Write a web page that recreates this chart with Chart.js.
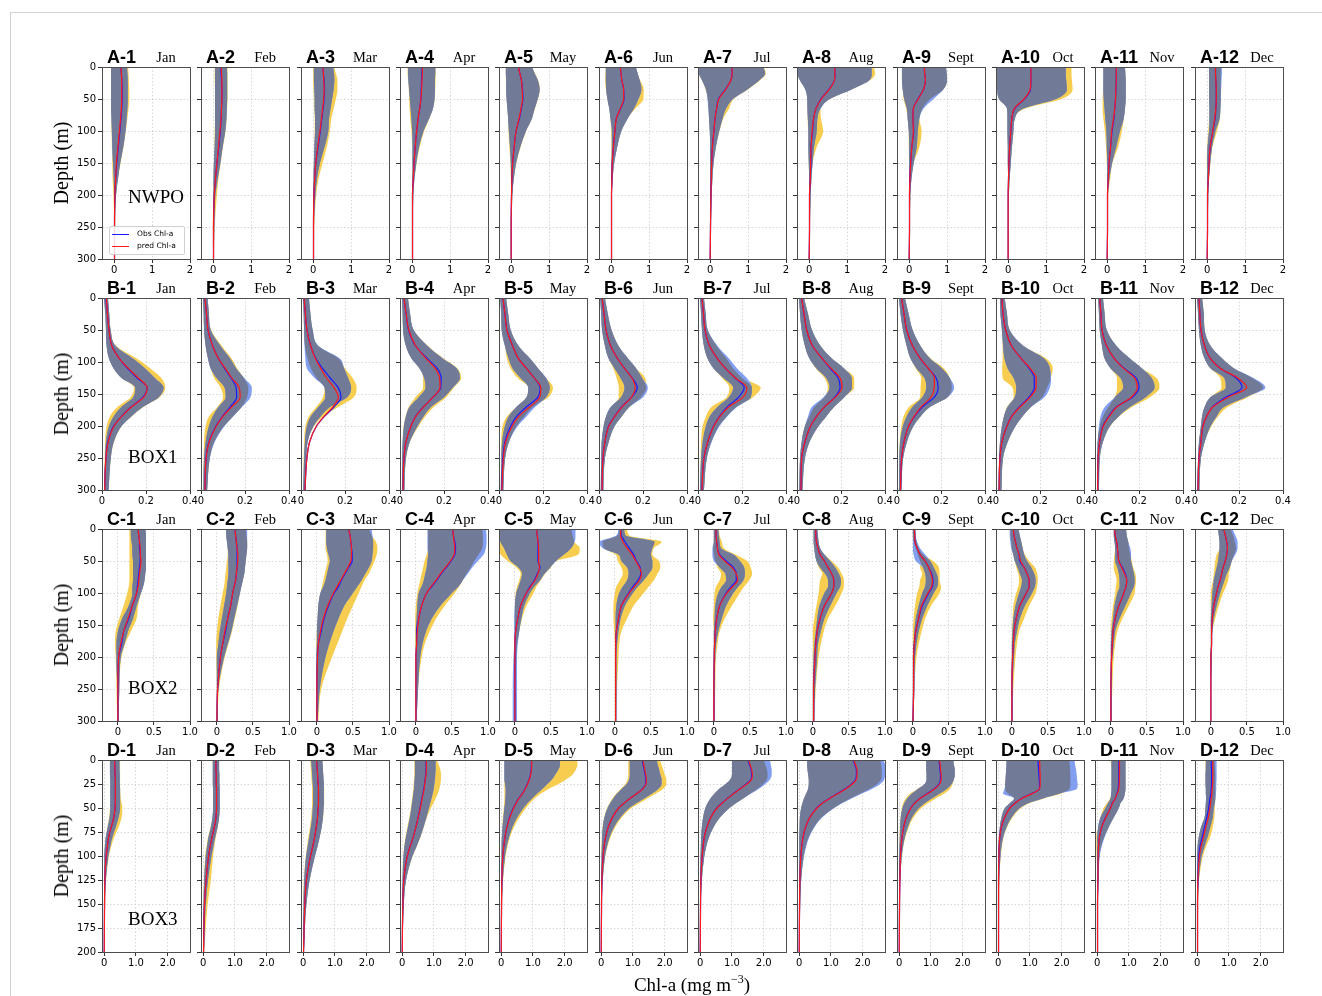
<!DOCTYPE html>
<html><head><meta charset="utf-8">
<script src="https://cdn.jsdelivr.net/npm/chart.js@4.4.1/dist/chart.umd.min.js"></script>
<style>
html,body{margin:0;padding:0;background:#fff}
body{width:1322px;height:996px;position:relative;overflow:hidden}
canvas{position:absolute}
.t{position:absolute;white-space:nowrap;line-height:0;color:#000}
#frame{position:absolute;left:10px;top:12px;width:1312px;height:984px;border-top:1px solid #d2d2d2;border-left:1px solid #d2d2d2}
#legend{position:absolute;left:109px;top:226px;width:74px;height:27px;border:1px solid #d0d0d0;border-radius:2px;background:rgba(255,255,255,0.85);font-family:"DejaVu Sans",sans-serif;font-size:7.5px}
</style></head><body>
<div id="frame"></div>
<script>
// ---------------- labels ----------------
const months = ['Jan','Feb','Mar','Apr','May','Jun','Jul','Aug','Sept','Oct','Nov','Dec'];
const rowLetters = ['A','B','C','D'];
const regionNames = ['NWPO','BOX1','BOX2','BOX3'];

// ---------------- depth grids (m) ----------------
const depthA = [0,10,20,35,50,65,80,100,125,150,175,200,250,300];
const depthB = [0,25,50,75,95,110,125,140,155,170,185,200,225,250,300];
const depthC = [0,10,20,30,40,50,60,70,80,90,100,120,140,160,180,200,250,300];
const depthD = [0,5,10,15,20,25,30,35,40,45,50,60,70,80,90,100,125,150,200];

// ---------------- axis ticks ----------------
const xRangeA = [-0.32, 2], xTicksA = [0,1,2], xLabelsA = ['0','1','2'];
const xRangeB = [0, 0.4], xTicksB = [0,0.2,0.4], xLabelsB = ['0','0.2','0.4'];
const xRangeC = [-0.22, 1.0], xTicksC = [0,0.5,1.0], xLabelsC = ['0','0.5','1.0'];
const xRangeD = [-0.07, 2.7], xTicksD = [0,1,2], xLabelsD = ['0','1.0','2.0'];
const yTicks300 = [0,50,100,150,200,250,300];
const yTicks200 = [0,25,50,75,100,125,150,175,200];

// ================= ROW A (NWPO) =================
const obsA = [
[0.18,0.19,0.2,0.21,0.21,0.2,0.18,0.15,0.11,0.07,0.04,0.02,0.01,0.01],
[0.2,0.21,0.22,0.23,0.23,0.22,0.21,0.19,0.15,0.1,0.06,0.03,0.01,0.01],
[0.26,0.27,0.29,0.3,0.29,0.26,0.23,0.19,0.13,0.07,0.04,0.02,0.01,0.01],
[0.26,0.26,0.25,0.24,0.23,0.2,0.16,0.12,0.08,0.05,0.03,0.01,0.01,0.01],
[0.19,0.23,0.27,0.3,0.31,0.27,0.22,0.13,0.08,0.04,0.02,0.01,0,0],
[0.24,0.26,0.28,0.33,0.34,0.25,0.14,0.1,0.06,0.03,0.02,0.01,0.01,0.01],
[0.58,0.58,0.55,0.4,0.22,0.17,0.13,0.1,0.06,0.04,0.03,0.02,0.01,0],
[0.67,0.68,0.67,0.52,0.31,0.18,0.12,0.09,0.05,0.045,0.03,0.01,0.01,0],
[0.4,0.41,0.43,0.38,0.23,0.11,0.1,0.12,0.07,0.04,0.02,0.01,0.01,0],
[0.59,0.6,0.6,0.59,0.43,0.17,0.1,0.07,0.04,0.02,0.01,0,0,0],
[0.24,0.24,0.24,0.23,0.22,0.2,0.18,0.13,0.09,0.05,0.03,0.01,0.01,0],
[0.22,0.22,0.23,0.24,0.24,0.23,0.21,0.15,0.08,0.05,0.03,0.01,0.01,0]];
const predA = [
[0.18,0.19,0.2,0.2,0.2,0.19,0.17,0.14,0.1,0.06,0.04,0.02,0.01,0.01],
[0.21,0.22,0.23,0.23,0.23,0.22,0.21,0.18,0.14,0.1,0.06,0.03,0.01,0.01],
[0.26,0.27,0.28,0.29,0.28,0.25,0.22,0.18,0.12,0.07,0.04,0.02,0.01,0.01],
[0.27,0.27,0.26,0.25,0.23,0.2,0.16,0.12,0.08,0.05,0.03,0.01,0.01,0.01],
[0.19,0.23,0.27,0.29,0.3,0.26,0.21,0.13,0.08,0.04,0.02,0.01,0,0],
[0.24,0.26,0.28,0.33,0.33,0.24,0.14,0.1,0.06,0.03,0.02,0.01,0.01,0.01],
[0.58,0.58,0.55,0.41,0.23,0.17,0.13,0.1,0.06,0.04,0.03,0.02,0.01,0],
[0.67,0.68,0.67,0.53,0.32,0.18,0.12,0.08,0.05,0.04,0.03,0.01,0.01,0],
[0.4,0.41,0.43,0.38,0.24,0.11,0.1,0.11,0.07,0.04,0.02,0.01,0.01,0],
[0.6,0.6,0.6,0.58,0.42,0.16,0.1,0.07,0.04,0.02,0.01,0,0,0],
[0.24,0.24,0.24,0.23,0.22,0.2,0.17,0.12,0.09,0.05,0.03,0.01,0.01,0],
[0.22,0.22,0.23,0.24,0.24,0.23,0.2,0.15,0.08,0.05,0.03,0.01,0.01,0]];
const yelLoA = [
[-0.08,-0.08,-0.08,-0.08,-0.08,-0.08,-0.08,-0.07,-0.06,-0.05,-0.04,-0.02,0,0],
[0.04,0.04,0.04,0.05,0.05,0.05,0.05,0.04,0.03,0.02,0.01,0,-0.01,0],
[0,0,0,0.01,0.02,0.03,0.04,0.04,0.03,0.02,0.01,0,0,0],
[-0.12,-0.12,-0.11,-0.09,-0.08,-0.07,-0.05,-0.02,0,0.01,0,0,0,0],
[-0.14,-0.14,-0.14,-0.13,-0.12,-0.1,-0.08,-0.07,-0.05,-0.02,-0.01,0,0,0],
[-0.14,-0.15,-0.16,-0.14,-0.1,-0.05,-0.02,0,0.01,0,0,0,0,0],
[-0.32,-0.3,-0.22,-0.12,-0.06,-0.04,-0.03,-0.01,0,0,0,0,0,0],
[-0.3,-0.3,-0.25,-0.1,-0.05,-0.05,-0.04,-0.03,-0.02,-0.01,0,0,0,0],
[-0.19,-0.19,-0.19,-0.17,-0.15,-0.08,-0.04,-0.01,-0.01,0,0,0,0,0],
[-0.3,-0.3,-0.3,-0.29,-0.24,-0.03,-0.02,-0.02,-0.01,-0.01,0,0,0,0],
[-0.1,-0.1,-0.1,-0.11,-0.12,-0.12,-0.1,-0.06,-0.03,-0.01,0,0,0,0],
[0.05,0.05,0.05,0.05,0.05,0.05,0.05,0.03,0,-0.01,0,0,0,0]];
const yelHiA = [
[0.37,0.38,0.39,0.4,0.4,0.38,0.35,0.31,0.25,0.17,0.1,0.05,0.03,0.02],
[0.38,0.38,0.38,0.38,0.38,0.37,0.36,0.33,0.26,0.2,0.14,0.1,0.04,0.02],
[0.55,0.6,0.64,0.64,0.6,0.54,0.48,0.44,0.36,0.25,0.14,0.08,0.03,0.02],
[0.62,0.62,0.62,0.61,0.6,0.55,0.46,0.32,0.2,0.12,0.06,0.03,0.02,0.02],
[0.56,0.63,0.71,0.76,0.71,0.63,0.55,0.4,0.25,0.14,0.07,0.03,0.02,0.02],
[0.65,0.7,0.76,0.86,0.85,0.64,0.44,0.27,0.16,0.08,0.04,0.02,0.02,0.02],
[1.42,1.47,1.33,1.0,0.62,0.5,0.35,0.25,0.15,0.09,0.06,0.04,0.02,0.01],
[1.7,1.74,1.62,1.12,0.54,0.3,0.31,0.37,0.2,0.09,0.06,0.04,0.02,0.01],
[0.97,0.99,1.0,0.9,0.55,0.35,0.27,0.33,0.27,0.12,0.06,0.03,0.02,0.01],
[1.67,1.67,1.68,1.7,1.4,0.45,0.18,0.14,0.1,0.07,0.04,0.02,0.01,0.01],
[0.47,0.48,0.49,0.49,0.49,0.47,0.44,0.39,0.29,0.14,0.08,0.03,0.02,0.01],
[0.36,0.36,0.36,0.36,0.36,0.35,0.34,0.26,0.14,0.09,0.05,0.03,0.02,0.01]];
const bluLoA = [
[-0.08,-0.08,-0.08,-0.08,-0.08,-0.08,-0.07,-0.06,-0.05,-0.03,-0.01,0,0,0],
[0.05,0.05,0.05,0.05,0.05,0.05,0.05,0.05,0.04,0.02,0.01,0.01,0,0],
[0.02,0.02,0.02,0.03,0.04,0.04,0.05,0.05,0.03,0.02,0.01,0.01,0,0],
[-0.11,-0.11,-0.1,-0.08,-0.06,-0.04,-0.02,0,0.01,0.01,0.01,0,0,0],
[-0.14,-0.14,-0.13,-0.13,-0.12,-0.1,-0.08,-0.06,-0.03,-0.01,0,0,0,0],
[-0.14,-0.14,-0.14,-0.13,-0.1,-0.05,-0.02,0.02,0.02,0.01,0,0,0,0],
[-0.32,-0.3,-0.22,-0.11,-0.07,-0.05,-0.03,-0.01,0,0,0,0,0,0],
[-0.3,-0.3,-0.25,-0.1,-0.05,-0.045,-0.035,-0.02,-0.02,-0.01,0,0,0,0],
[-0.19,-0.19,-0.19,-0.17,-0.13,-0.06,-0.04,-0.01,0,0,0,0,0,0],
[-0.3,-0.3,-0.3,-0.29,-0.24,-0.03,-0.02,-0.02,-0.01,-0.01,0,0,0,0],
[-0.1,-0.1,-0.1,-0.1,-0.09,-0.07,-0.05,-0.02,-0.01,0,0,0,0,0],
[0.05,0.05,0.05,0.05,0.05,0.06,0.06,0.05,0.01,0,0,0,0,0]];
const bluHiA = [
[0.34,0.35,0.36,0.36,0.36,0.35,0.33,0.3,0.24,0.16,0.1,0.05,0.02,0.02],
[0.36,0.37,0.37,0.37,0.37,0.36,0.35,0.32,0.25,0.19,0.12,0.06,0.03,0.02],
[0.53,0.55,0.56,0.54,0.5,0.46,0.42,0.4,0.3,0.18,0.1,0.06,0.02,0.02],
[0.61,0.61,0.6,0.6,0.59,0.55,0.45,0.3,0.18,0.11,0.06,0.03,0.02,0.02],
[0.55,0.62,0.7,0.75,0.7,0.62,0.55,0.39,0.24,0.13,0.07,0.03,0.02,0.02],
[0.65,0.7,0.75,0.8,0.72,0.6,0.44,0.27,0.16,0.08,0.04,0.02,0.02,0.02],
[1.4,1.45,1.31,0.98,0.6,0.42,0.33,0.24,0.15,0.09,0.06,0.04,0.02,0.01],
[1.65,1.65,1.6,1.12,0.54,0.3,0.22,0.2,0.13,0.09,0.06,0.04,0.02,0.01],
[0.97,0.99,1.0,0.9,0.64,0.38,0.27,0.23,0.2,0.12,0.06,0.03,0.02,0.01],
[1.52,1.52,1.53,1.55,1.26,0.4,0.18,0.14,0.1,0.07,0.04,0.02,0.01,0.01],
[0.47,0.48,0.49,0.49,0.49,0.47,0.44,0.34,0.24,0.13,0.06,0.02,0.02,0.01],
[0.39,0.39,0.38,0.37,0.36,0.35,0.33,0.22,0.13,0.08,0.05,0.03,0.02,0.01]];

// ================= ROW B (BOX1) =================
const obsB = [
[0.018,0.025,0.032,0.045,0.08,0.116,0.16,0.205,0.187,0.133,0.089,0.053,0.027,0.018,0.012],
[0.018,0.025,0.032,0.053,0.08,0.107,0.137,0.16,0.162,0.133,0.098,0.068,0.036,0.023,0.018],
[0.014,0.02,0.027,0.044,0.068,0.098,0.133,0.169,0.182,0.151,0.107,0.071,0.039,0.027,0.018],
[0.018,0.028,0.039,0.071,0.125,0.169,0.187,0.185,0.15,0.107,0.071,0.05,0.027,0.018,0.014],
[0.018,0.027,0.036,0.062,0.089,0.125,0.16,0.187,0.177,0.125,0.08,0.053,0.027,0.018,0.012],
[0.014,0.023,0.032,0.053,0.085,0.116,0.151,0.174,0.148,0.103,0.071,0.044,0.027,0.018,0.014],
[0.018,0.025,0.032,0.053,0.089,0.125,0.169,0.21,0.185,0.133,0.098,0.071,0.044,0.027,0.018],
[0.021,0.032,0.044,0.071,0.116,0.151,0.187,0.196,0.172,0.125,0.089,0.062,0.036,0.021,0.018],
[0.021,0.032,0.044,0.071,0.107,0.142,0.178,0.187,0.17,0.116,0.08,0.053,0.032,0.021,0.016],
[0.027,0.032,0.044,0.071,0.116,0.151,0.174,0.174,0.15,0.107,0.071,0.05,0.027,0.018,0.014],
[0.021,0.027,0.032,0.053,0.089,0.133,0.187,0.2,0.17,0.098,0.062,0.036,0.021,0.014,0.012],
[0.018,0.022,0.027,0.044,0.071,0.116,0.187,0.214,0.14,0.08,0.053,0.036,0.027,0.018,0.014]];
const predB = [
[0.02,0.025,0.032,0.045,0.08,0.12,0.165,0.205,0.19,0.135,0.09,0.055,0.028,0.018,0.012],
[0.018,0.025,0.032,0.053,0.08,0.11,0.14,0.174,0.178,0.14,0.1,0.07,0.037,0.023,0.018],
[0.014,0.02,0.027,0.044,0.066,0.09,0.116,0.15,0.17,0.145,0.105,0.07,0.039,0.027,0.018],
[0.018,0.028,0.04,0.072,0.12,0.16,0.18,0.182,0.15,0.108,0.072,0.05,0.027,0.018,0.014],
[0.018,0.027,0.036,0.062,0.089,0.125,0.16,0.19,0.185,0.14,0.09,0.06,0.03,0.02,0.013],
[0.014,0.023,0.032,0.053,0.085,0.116,0.15,0.164,0.148,0.105,0.072,0.045,0.027,0.018,0.014],
[0.018,0.025,0.032,0.053,0.089,0.125,0.17,0.222,0.205,0.14,0.1,0.072,0.044,0.027,0.018],
[0.021,0.032,0.044,0.071,0.116,0.155,0.196,0.205,0.175,0.125,0.089,0.062,0.036,0.021,0.018],
[0.021,0.032,0.044,0.071,0.107,0.142,0.17,0.169,0.155,0.11,0.078,0.053,0.032,0.021,0.016],
[0.027,0.032,0.044,0.071,0.116,0.155,0.183,0.182,0.155,0.11,0.072,0.05,0.027,0.018,0.014],
[0.021,0.027,0.032,0.053,0.089,0.13,0.18,0.192,0.165,0.1,0.065,0.038,0.021,0.014,0.012],
[0.018,0.022,0.027,0.044,0.071,0.116,0.195,0.235,0.15,0.082,0.053,0.036,0.027,0.018,0.014]];
const yelLoB = [
[0.009,0.015,0.018,0.021,0.032,0.053,0.089,0.145,0.13,0.071,0.036,0.021,0.014,0.012,0.009],
[0.009,0.012,0.014,0.021,0.032,0.044,0.06,0.089,0.1,0.075,0.036,0.021,0.014,0.012,0.01],
[0.009,0.012,0.014,0.018,0.03,0.045,0.07,0.107,0.1,0.07,0.035,0.02,0.014,0.012,0.01],
[0.009,0.012,0.014,0.027,0.053,0.089,0.105,0.105,0.07,0.04,0.025,0.016,0.012,0.01,0.009],
[0.005,0.01,0.012,0.027,0.036,0.053,0.085,0.133,0.125,0.08,0.036,0.016,0.01,0.009,0.008],
[0.005,0.01,0.014,0.027,0.044,0.065,0.08,0.09,0.09,0.055,0.032,0.021,0.012,0.01,0.008],
[0.009,0.014,0.018,0.027,0.044,0.071,0.11,0.142,0.13,0.062,0.036,0.021,0.014,0.012,0.009],
[0.009,0.014,0.021,0.036,0.057,0.085,0.125,0.14,0.125,0.08,0.056,0.036,0.021,0.014,0.01],
[0.009,0.016,0.027,0.044,0.062,0.085,0.11,0.107,0.105,0.055,0.03,0.02,0.012,0.01,0.009],
[0.018,0.02,0.027,0.03,0.03,0.028,0.03,0.075,0.08,0.05,0.036,0.027,0.018,0.014,0.012],
[0.014,0.018,0.021,0.032,0.044,0.071,0.1,0.1,0.09,0.062,0.036,0.022,0.012,0.01,0.009],
[0.009,0.014,0.018,0.027,0.044,0.071,0.115,0.12,0.07,0.044,0.032,0.027,0.018,0.014,0.01]];
const yelHiB = [
[0.027,0.033,0.04,0.065,0.16,0.22,0.27,0.288,0.262,0.19,0.135,0.09,0.055,0.04,0.03],
[0.03,0.036,0.046,0.095,0.14,0.165,0.195,0.215,0.21,0.185,0.145,0.105,0.06,0.04,0.028],
[0.036,0.043,0.053,0.078,0.172,0.2,0.235,0.253,0.24,0.17,0.1,0.06,0.03,0.025,0.02],
[0.036,0.046,0.062,0.128,0.2,0.262,0.278,0.245,0.21,0.155,0.115,0.085,0.045,0.028,0.02],
[0.032,0.042,0.053,0.089,0.142,0.178,0.214,0.245,0.225,0.155,0.115,0.08,0.045,0.028,0.02],
[0.027,0.04,0.057,0.089,0.133,0.169,0.21,0.215,0.19,0.139,0.103,0.071,0.044,0.027,0.02],
[0.027,0.035,0.044,0.085,0.13,0.16,0.2,0.285,0.25,0.175,0.13,0.095,0.06,0.04,0.027],
[0.032,0.05,0.068,0.107,0.16,0.214,0.26,0.26,0.215,0.169,0.133,0.098,0.057,0.036,0.025],
[0.036,0.053,0.071,0.107,0.155,0.214,0.24,0.249,0.23,0.151,0.107,0.075,0.045,0.028,0.02],
[0.039,0.05,0.062,0.125,0.23,0.258,0.248,0.232,0.21,0.16,0.12,0.089,0.053,0.032,0.025],
[0.036,0.044,0.053,0.098,0.16,0.214,0.28,0.293,0.25,0.17,0.11,0.07,0.036,0.022,0.018],
[0.032,0.04,0.044,0.071,0.125,0.178,0.26,0.31,0.24,0.15,0.105,0.075,0.044,0.027,0.02]];
const bluLoB = [
[0.009,0.015,0.018,0.021,0.032,0.053,0.089,0.151,0.142,0.089,0.053,0.032,0.018,0.014,0.009],
[0.009,0.012,0.014,0.021,0.032,0.044,0.071,0.107,0.112,0.08,0.053,0.036,0.021,0.014,0.011],
[0.009,0.012,0.014,0.016,0.02,0.027,0.062,0.107,0.11,0.08,0.044,0.027,0.018,0.014,0.01],
[0.009,0.012,0.014,0.027,0.053,0.089,0.11,0.116,0.085,0.044,0.027,0.018,0.012,0.01,0.009],
[0.005,0.01,0.012,0.027,0.044,0.062,0.098,0.133,0.125,0.08,0.044,0.027,0.014,0.011,0.008],
[0.005,0.01,0.014,0.027,0.044,0.071,0.098,0.116,0.1,0.053,0.032,0.021,0.012,0.01,0.008],
[0.009,0.014,0.018,0.027,0.044,0.071,0.116,0.16,0.14,0.089,0.053,0.036,0.021,0.014,0.009],
[0.009,0.014,0.021,0.036,0.057,0.089,0.133,0.148,0.12,0.068,0.05,0.036,0.021,0.014,0.01],
[0.009,0.016,0.027,0.044,0.062,0.089,0.125,0.133,0.115,0.071,0.044,0.027,0.014,0.011,0.009],
[0.018,0.02,0.027,0.032,0.039,0.053,0.08,0.092,0.085,0.053,0.036,0.027,0.018,0.014,0.012],
[0.014,0.018,0.021,0.032,0.044,0.071,0.116,0.128,0.09,0.045,0.025,0.018,0.012,0.01,0.009],
[0.009,0.014,0.018,0.027,0.044,0.071,0.133,0.14,0.07,0.044,0.032,0.027,0.018,0.014,0.01]];
const bluHiB = [
[0.027,0.033,0.039,0.062,0.142,0.196,0.24,0.28,0.258,0.187,0.133,0.089,0.053,0.04,0.03],
[0.03,0.036,0.044,0.089,0.133,0.16,0.196,0.231,0.225,0.187,0.146,0.107,0.062,0.04,0.028],
[0.036,0.043,0.053,0.08,0.178,0.196,0.214,0.228,0.21,0.133,0.089,0.057,0.03,0.025,0.02],
[0.036,0.046,0.062,0.125,0.196,0.258,0.272,0.24,0.2,0.142,0.107,0.08,0.044,0.027,0.02],
[0.032,0.042,0.053,0.089,0.142,0.178,0.214,0.231,0.214,0.165,0.125,0.085,0.045,0.028,0.02],
[0.027,0.04,0.057,0.089,0.133,0.169,0.196,0.222,0.2,0.139,0.103,0.071,0.044,0.027,0.02],
[0.027,0.035,0.044,0.089,0.142,0.178,0.222,0.245,0.24,0.178,0.133,0.098,0.062,0.04,0.027],
[0.032,0.05,0.068,0.107,0.16,0.214,0.249,0.25,0.215,0.169,0.133,0.098,0.057,0.036,0.025],
[0.036,0.053,0.071,0.107,0.151,0.205,0.24,0.26,0.23,0.151,0.107,0.075,0.045,0.028,0.02],
[0.039,0.05,0.062,0.125,0.22,0.245,0.25,0.245,0.22,0.16,0.12,0.089,0.053,0.032,0.025],
[0.036,0.044,0.053,0.098,0.16,0.214,0.258,0.271,0.23,0.16,0.107,0.068,0.036,0.022,0.018],
[0.032,0.04,0.044,0.071,0.125,0.178,0.267,0.32,0.23,0.133,0.098,0.071,0.044,0.027,0.02]];

// ================= ROW C (BOX2) =================
const obsC = [
[0.28,0.29,0.3,0.3,0.31,0.31,0.3,0.29,0.28,0.27,0.26,0.2,0.15,0.08,0.05,0.01,0,0],
[0.25,0.26,0.27,0.28,0.28,0.28,0.28,0.27,0.26,0.24,0.22,0.19,0.15,0.12,0.08,0.05,0.01,0],
[0.44,0.46,0.47,0.48,0.49,0.49,0.44,0.39,0.34,0.3,0.24,0.16,0.1,0.06,0.02,0.01,0,0],
[0.51,0.52,0.54,0.55,0.54,0.49,0.42,0.35,0.29,0.22,0.15,0.08,0.04,0.01,0.01,0,0,0],
[0.3,0.31,0.32,0.32,0.32,0.32,0.35,0.31,0.27,0.21,0.16,0.08,0.04,0.01,0,0,0,0],
[0.08,0.09,0.14,0.2,0.26,0.3,0.35,0.36,0.32,0.25,0.19,0.09,0.05,0.02,0.01,0.01,0.01,0.01],
[0.03,0.03,0.04,0.05,0.08,0.17,0.27,0.31,0.31,0.24,0.17,0.08,0.04,0.02,0.01,0.005,0,0],
[0.04,0.04,0.05,0.07,0.1,0.16,0.21,0.26,0.29,0.29,0.26,0.16,0.1,0.06,0.04,0.03,0.01,0.01],
[0.02,0.025,0.03,0.06,0.1,0.17,0.22,0.26,0.28,0.27,0.22,0.13,0.08,0.04,0.02,0.01,0.01,0],
[0.02,0.03,0.05,0.07,0.1,0.11,0.17,0.21,0.24,0.24,0.2,0.11,0.06,0.03,0.02,0.01,0,0],
[0.05,0.06,0.08,0.09,0.1,0.11,0.16,0.2,0.22,0.21,0.18,0.11,0.06,0.03,0.02,0.01,0,0],
[0.18,0.2,0.22,0.23,0.22,0.2,0.17,0.15,0.13,0.1,0.08,0.04,0.02,0.01,0.01,0,0,0]];
const predC = [
[0.28,0.29,0.3,0.31,0.31,0.32,0.31,0.3,0.29,0.28,0.26,0.2,0.14,0.08,0.04,0.01,0,0],
[0.25,0.26,0.27,0.28,0.29,0.29,0.28,0.27,0.26,0.24,0.22,0.19,0.15,0.11,0.08,0.05,0.01,0],
[0.44,0.46,0.47,0.48,0.48,0.47,0.43,0.38,0.33,0.28,0.23,0.15,0.09,0.05,0.02,0.01,0,0],
[0.51,0.52,0.53,0.54,0.53,0.48,0.41,0.34,0.28,0.21,0.15,0.08,0.04,0.02,0.01,0,0,0],
[0.3,0.31,0.32,0.33,0.33,0.33,0.34,0.32,0.28,0.22,0.16,0.08,0.04,0.01,0,0,0,0],
[0.08,0.08,0.11,0.17,0.24,0.29,0.34,0.37,0.34,0.27,0.2,0.09,0.05,0.02,0.01,0.01,0.01,0.01],
[0.03,0.03,0.04,0.05,0.07,0.15,0.25,0.31,0.33,0.26,0.18,0.08,0.04,0.02,0.01,0.005,0,0],
[0.04,0.04,0.05,0.07,0.1,0.16,0.21,0.26,0.29,0.29,0.26,0.16,0.1,0.06,0.04,0.03,0.01,0.01],
[0.02,0.025,0.03,0.06,0.1,0.17,0.22,0.25,0.27,0.26,0.21,0.12,0.08,0.04,0.02,0.01,0.01,0],
[0.02,0.03,0.05,0.07,0.1,0.12,0.17,0.21,0.24,0.24,0.2,0.11,0.06,0.03,0.02,0.01,0,0],
[0.05,0.06,0.08,0.09,0.1,0.11,0.15,0.19,0.22,0.21,0.18,0.11,0.06,0.03,0.02,0.01,0,0],
[0.18,0.2,0.22,0.23,0.22,0.2,0.17,0.15,0.13,0.1,0.08,0.04,0.02,0.01,0.01,0,0,0]];
const yelLoC = [
[0.16,0.16,0.16,0.16,0.16,0.16,0.16,0.16,0.16,0.15,0.13,0.08,0.02,-0.03,-0.04,-0.03,-0.02,-0.01],
[0.13,0.13,0.14,0.15,0.15,0.14,0.13,0.12,0.11,0.1,0.08,0.05,0.02,0,-0.01,-0.01,0,0],
[0.12,0.12,0.12,0.12,0.14,0.15,0.13,0.11,0.09,0.07,0.05,0.02,0.01,0,-0.01,-0.01,-0.01,-0.01],
[0.17,0.17,0.17,0.17,0.15,0.12,0.1,0.08,0.06,0.04,0.02,0,-0.01,-0.01,-0.01,0,0,0],
[-0.21,-0.21,-0.21,-0.22,-0.2,-0.1,0.02,0.08,0.06,0.03,0.01,0,0,0,0,0,0,0],
[0.06,0.04,-0.17,-0.15,0.01,0.04,0.09,0.11,0.07,0.02,0,-0.02,-0.02,-0.01,0,0,0,0],
[0,0,0,-0.01,0,0.02,0.05,0.1,0.08,0.03,0.01,0,-0.01,0,0,0,0,0],
[0.01,0.01,0.01,0.02,0.03,0.05,0.08,0.13,0.1,0.09,0.08,0.05,0.02,0,0,0,0,0],
[0,0,0.01,0.04,0.07,0.1,0.1,0.13,0.1,0.09,0.06,0.03,0.01,0,0,0,0,0],
[-0.02,-0.02,-0.01,0,0.02,0.04,0.06,0.09,0.1,0.09,0.06,0.02,0.01,0,0,0,0,0],
[0.04,0.04,0.05,0.06,0.05,0.04,0.04,0.06,0.08,0.07,0.06,0.03,0.01,0,0,0,0,0],
[0.1,0.11,0.12,0.12,0.08,0.06,0.05,0.04,0.03,0.01,0,0,0,0,0,0,0,0]];
const yelHiC = [
[0.38,0.39,0.39,0.39,0.39,0.39,0.39,0.38,0.37,0.35,0.32,0.28,0.26,0.18,0.1,0.05,0.02,0.01],
[0.4,0.41,0.42,0.42,0.41,0.4,0.39,0.38,0.36,0.34,0.32,0.29,0.25,0.21,0.16,0.11,0.03,0.01],
[0.72,0.76,0.82,0.84,0.83,0.8,0.76,0.72,0.66,0.62,0.58,0.5,0.42,0.35,0.28,0.21,0.06,0.02],
[0.92,0.93,0.93,0.92,0.87,0.81,0.76,0.7,0.65,0.6,0.54,0.4,0.28,0.19,0.12,0.08,0.03,0.01],
[0.78,0.8,0.82,0.9,0.88,0.58,0.5,0.42,0.36,0.3,0.26,0.16,0.1,0.06,0.03,0.02,0.01,0.01],
[0.17,0.2,0.65,0.54,0.52,0.61,0.63,0.59,0.54,0.47,0.4,0.26,0.17,0.09,0.06,0.05,0.03,0.02],
[0.07,0.08,0.11,0.14,0.3,0.46,0.51,0.53,0.49,0.42,0.36,0.25,0.15,0.08,0.05,0.03,0.02,0.01],
[0.06,0.07,0.08,0.1,0.16,0.26,0.35,0.4,0.43,0.43,0.4,0.31,0.21,0.15,0.11,0.08,0.04,0.02],
[0.03,0.04,0.05,0.08,0.14,0.28,0.36,0.37,0.37,0.39,0.37,0.25,0.17,0.12,0.08,0.05,0.02,0.01],
[0.09,0.11,0.13,0.15,0.18,0.24,0.32,0.35,0.36,0.35,0.33,0.24,0.17,0.1,0.07,0.05,0.02,0.01],
[0.21,0.22,0.24,0.25,0.27,0.29,0.31,0.34,0.35,0.34,0.33,0.25,0.16,0.09,0.06,0.04,0.02,0.01],
[0.27,0.31,0.33,0.35,0.32,0.29,0.27,0.25,0.24,0.21,0.17,0.11,0.06,0.02,0.01,0.01,0,0]];
const bluLoC = [
[0.18,0.18,0.19,0.2,0.2,0.21,0.21,0.21,0.21,0.2,0.2,0.15,0.06,0,-0.02,-0.02,-0.01,-0.01],
[0.13,0.13,0.14,0.15,0.16,0.16,0.16,0.16,0.15,0.14,0.13,0.1,0.07,0.04,0.02,0,0,0],
[0.13,0.13,0.13,0.14,0.16,0.18,0.16,0.14,0.12,0.09,0.05,0.02,0.01,0,0,-0.01,-0.01,-0.01],
[0.16,0.16,0.16,0.16,0.17,0.16,0.15,0.13,0.11,0.08,0.04,0.02,0.01,0,0,0,0,0],
[-0.21,-0.21,-0.2,-0.15,-0.11,-0.06,0.05,0.1,0.08,0.05,0.02,0,-0.01,-0.01,-0.01,-0.02,-0.03,-0.03],
[0.05,0.02,-0.21,-0.17,0.05,0.09,0.17,0.19,0.17,0.11,0.06,0.02,0.01,0.01,0.01,0.01,0.01,0.01],
[0,0,0,-0.02,-0.02,0,0.08,0.16,0.17,0.11,0.06,0.02,0.01,0,0,0,0,0],
[0.01,0.01,0.01,0.02,0.03,0.05,0.1,0.17,0.21,0.21,0.16,0.09,0.06,0.04,0.02,0.01,0,0],
[0,0,0,0,0.01,0.04,0.14,0.17,0.18,0.17,0.13,0.08,0.04,0.02,0.01,0,0,0],
[-0.03,-0.03,-0.02,-0.01,0.02,0.04,0.08,0.11,0.14,0.13,0.1,0.05,0.02,0.01,0,0,0,0],
[0.04,0.04,0.05,0.06,0.06,0.06,0.09,0.11,0.12,0.12,0.09,0.05,0.03,0.01,0,0,0,0],
[0.1,0.11,0.12,0.12,0.11,0.1,0.08,0.06,0.04,0.03,0.02,0.01,0,0,0,0,0,0]];
const bluHiC = [
[0.38,0.39,0.39,0.39,0.39,0.39,0.39,0.38,0.37,0.35,0.32,0.26,0.21,0.14,0.09,0.04,0.02,0.01],
[0.42,0.42,0.42,0.42,0.41,0.4,0.39,0.38,0.36,0.34,0.32,0.28,0.24,0.2,0.15,0.1,0.02,0.01],
[0.76,0.77,0.78,0.78,0.77,0.76,0.72,0.67,0.62,0.56,0.5,0.38,0.3,0.23,0.17,0.12,0.04,0.01],
[0.97,0.98,0.98,0.97,0.94,0.86,0.78,0.72,0.65,0.59,0.5,0.34,0.22,0.14,0.09,0.06,0.03,0.01],
[0.84,0.84,0.83,0.78,0.68,0.57,0.49,0.41,0.35,0.27,0.21,0.13,0.09,0.06,0.04,0.03,0.03,0.03],
[0.13,0.15,0.55,0.52,0.5,0.52,0.52,0.47,0.4,0.32,0.25,0.14,0.08,0.05,0.03,0.02,0.02,0.02],
[0.06,0.07,0.08,0.1,0.27,0.36,0.42,0.43,0.41,0.34,0.27,0.17,0.11,0.06,0.03,0.02,0.01,0.01],
[0.06,0.07,0.08,0.1,0.16,0.24,0.31,0.36,0.39,0.38,0.33,0.24,0.16,0.11,0.07,0.06,0.03,0.02],
[0.04,0.04,0.06,0.1,0.17,0.24,0.29,0.33,0.35,0.34,0.29,0.2,0.13,0.08,0.05,0.03,0.02,0.01],
[0.09,0.11,0.13,0.15,0.17,0.21,0.27,0.31,0.33,0.32,0.28,0.18,0.11,0.07,0.04,0.03,0.01,0.01],
[0.21,0.22,0.24,0.27,0.28,0.28,0.3,0.32,0.33,0.32,0.28,0.2,0.12,0.06,0.04,0.02,0.01,0.01],
[0.3,0.34,0.37,0.37,0.34,0.29,0.26,0.22,0.19,0.16,0.13,0.08,0.04,0.02,0.01,0.01,0,0]];

// ================= ROW D (BOX3) =================
const obsD = [
[0.33,0.33,0.34,0.34,0.35,0.35,0.35,0.35,0.35,0.35,0.34,0.3,0.22,0.14,0.1,0.06,0.02,0.01,0],
[0.4,0.4,0.4,0.41,0.41,0.41,0.42,0.42,0.42,0.42,0.42,0.4,0.35,0.28,0.22,0.17,0.09,0.04,0.01],
[0.42,0.43,0.44,0.45,0.46,0.47,0.48,0.48,0.48,0.48,0.47,0.45,0.41,0.36,0.3,0.23,0.1,0.05,0.01],
[0.75,0.75,0.75,0.74,0.72,0.7,0.68,0.65,0.62,0.59,0.56,0.5,0.43,0.35,0.25,0.16,0.05,0.02,0],
[0.95,0.95,0.94,0.92,0.88,0.82,0.75,0.66,0.55,0.46,0.38,0.26,0.18,0.12,0.08,0.05,0.02,0.01,0],
[1.3,1.32,1.35,1.38,1.4,1.4,1.3,1.12,0.9,0.72,0.55,0.35,0.22,0.14,0.09,0.06,0.02,0.01,0],
[1.5,1.55,1.6,1.62,1.6,1.45,1.25,1.05,0.85,0.68,0.52,0.33,0.21,0.13,0.09,0.06,0.02,0.01,0],
[1.7,1.75,1.8,1.8,1.78,1.65,1.45,1.2,0.95,0.72,0.55,0.33,0.2,0.12,0.08,0.05,0.02,0.01,0],
[1.25,1.27,1.28,1.3,1.3,1.25,1.1,0.88,0.65,0.48,0.36,0.22,0.14,0.09,0.06,0.04,0.02,0.01,0],
[1.25,1.26,1.27,1.28,1.29,1.3,1.3,1.05,0.73,0.52,0.36,0.2,0.1,0.05,0.03,0.02,0.01,0.01,0.01],
[0.68,0.68,0.68,0.68,0.68,0.67,0.66,0.62,0.57,0.47,0.42,0.26,0.14,0.07,0.04,0.03,0.02,0.01,0.01],
[0.44,0.44,0.45,0.45,0.45,0.45,0.44,0.43,0.4,0.38,0.36,0.3,0.23,0.16,0.09,0.05,0.02,0.01,0.01]];
const predD = [
[0.33,0.33,0.34,0.34,0.35,0.35,0.35,0.35,0.35,0.35,0.34,0.3,0.22,0.14,0.1,0.06,0.02,0.01,0],
[0.4,0.4,0.4,0.41,0.41,0.41,0.42,0.42,0.42,0.42,0.42,0.4,0.35,0.28,0.22,0.17,0.09,0.04,0.01],
[0.42,0.43,0.44,0.45,0.46,0.47,0.48,0.48,0.48,0.48,0.47,0.45,0.41,0.36,0.3,0.23,0.1,0.05,0.01],
[0.76,0.76,0.76,0.75,0.73,0.71,0.69,0.66,0.63,0.6,0.57,0.5,0.43,0.35,0.25,0.16,0.05,0.02,0],
[0.96,0.96,0.95,0.93,0.89,0.83,0.76,0.67,0.56,0.47,0.39,0.27,0.18,0.12,0.08,0.05,0.02,0.01,0],
[1.32,1.34,1.37,1.4,1.42,1.41,1.31,1.12,0.9,0.72,0.55,0.35,0.22,0.14,0.09,0.06,0.02,0.01,0],
[1.52,1.57,1.62,1.64,1.62,1.47,1.26,1.06,0.86,0.69,0.53,0.33,0.21,0.13,0.09,0.06,0.02,0.01,0],
[1.72,1.77,1.82,1.82,1.8,1.67,1.47,1.22,0.96,0.73,0.56,0.33,0.2,0.12,0.08,0.05,0.02,0.01,0],
[1.27,1.29,1.3,1.32,1.32,1.27,1.12,0.9,0.66,0.49,0.37,0.22,0.14,0.09,0.06,0.04,0.02,0.01,0],
[1.3,1.31,1.31,1.32,1.32,1.32,1.3,1.07,0.74,0.53,0.37,0.2,0.1,0.05,0.03,0.02,0.01,0.01,0.01],
[0.7,0.7,0.7,0.7,0.7,0.69,0.68,0.63,0.57,0.48,0.42,0.27,0.14,0.07,0.04,0.03,0.02,0.01,0.01],
[0.49,0.49,0.49,0.49,0.49,0.48,0.47,0.46,0.44,0.42,0.4,0.35,0.27,0.2,0.12,0.07,0.02,0.01,0.01]];
const yelLoD = [
[0.18,0.18,0.18,0.18,0.19,0.19,0.19,0.19,0.19,0.19,0.18,0.15,0.1,0.05,0.02,0,0,0,0],
[0.3,0.3,0.3,0.3,0.3,0.3,0.31,0.31,0.31,0.31,0.31,0.29,0.23,0.15,0.1,0.06,0.02,0,0],
[0.22,0.23,0.24,0.25,0.26,0.27,0.28,0.28,0.28,0.28,0.27,0.25,0.21,0.16,0.12,0.08,0.02,0,0],
[0.38,0.38,0.38,0.38,0.37,0.36,0.35,0.33,0.31,0.29,0.27,0.22,0.16,0.1,0.06,0.03,0.01,0,0],
[0.1,0.1,0.1,0.1,0.1,0.1,0.1,0.1,0.1,0.09,0.08,0.05,0.03,0.02,0.01,0,0,0,0],
[0.85,0.85,0.85,0.85,0.83,0.76,0.62,0.47,0.35,0.26,0.18,0.09,0.04,0.02,0.01,0,0,0,0],
[1.0,1.0,1.0,1.0,0.95,0.8,0.6,0.45,0.32,0.23,0.16,0.09,0.05,0.03,0.02,0.01,0,0,0],
[0.25,0.25,0.26,0.28,0.3,0.3,0.28,0.22,0.15,0.1,0.06,0.02,0.01,0,0,0,0,0,0],
[0.85,0.85,0.85,0.86,0.86,0.8,0.58,0.35,0.2,0.12,0.08,0.04,0.02,0.01,0,0,0,0,0],
[0.26,0.26,0.25,0.24,0.23,0.22,0.22,0.3,0.5,0.35,0.21,0.1,0.05,0.02,0.01,0,0,0,0],
[0.42,0.43,0.44,0.45,0.45,0.45,0.45,0.44,0.4,0.3,0.2,0.1,0.03,-0.03,-0.03,-0.02,0,0,0],
[0.26,0.26,0.26,0.26,0.26,0.26,0.27,0.27,0.28,0.27,0.26,0.23,0.12,0.05,0.01,0,0,0,0]];
const yelHiD = [
[0.5,0.5,0.5,0.5,0.5,0.5,0.5,0.51,0.52,0.55,0.57,0.55,0.45,0.32,0.22,0.15,0.06,0.03,0.01],
[0.5,0.5,0.5,0.51,0.51,0.51,0.52,0.52,0.52,0.52,0.52,0.5,0.46,0.4,0.35,0.31,0.24,0.14,0.03],
[0.6,0.61,0.62,0.63,0.64,0.65,0.66,0.66,0.66,0.66,0.65,0.63,0.58,0.52,0.45,0.37,0.2,0.1,0.02],
[1.1,1.15,1.2,1.22,1.22,1.2,1.17,1.12,1.05,0.98,0.9,0.78,0.68,0.58,0.46,0.33,0.12,0.05,0.01],
[2.4,2.4,2.35,2.25,2.05,1.8,1.5,1.25,1.05,0.9,0.78,0.57,0.4,0.28,0.2,0.14,0.06,0.03,0.01],
[1.85,1.9,1.95,2.0,2.05,2.05,1.95,1.72,1.45,1.2,0.95,0.65,0.44,0.3,0.2,0.13,0.05,0.02,0.01],
[2.0,2.05,2.1,2.12,2.1,1.98,1.8,1.58,1.35,1.12,0.92,0.62,0.42,0.28,0.19,0.13,0.05,0.02,0.01],
[2.55,2.58,2.6,2.6,2.58,2.45,2.22,1.92,1.6,1.32,1.08,0.7,0.46,0.3,0.2,0.14,0.06,0.03,0.01],
[1.7,1.72,1.75,1.75,1.72,1.68,1.6,1.42,1.15,0.9,0.7,0.45,0.3,0.2,0.13,0.09,0.03,0.01,0.01],
[2.24,2.25,2.26,2.27,2.27,2.27,2.25,2.0,1.45,0.98,0.72,0.45,0.28,0.17,0.12,0.08,0.04,0.03,0.02],
[0.89,0.89,0.89,0.89,0.89,0.89,0.89,0.87,0.83,0.73,0.68,0.52,0.36,0.22,0.12,0.07,0.04,0.02,0.01],
[0.54,0.55,0.56,0.57,0.57,0.57,0.57,0.57,0.57,0.56,0.55,0.54,0.49,0.41,0.28,0.18,0.06,0.03,0.01]];
const bluLoD = [
[0.18,0.18,0.18,0.18,0.19,0.19,0.19,0.19,0.19,0.19,0.19,0.17,0.11,0.05,0.02,0,0,0,0],
[0.3,0.3,0.3,0.3,0.3,0.3,0.31,0.31,0.31,0.31,0.31,0.29,0.24,0.17,0.12,0.08,0.03,0.01,0],
[0.25,0.26,0.27,0.28,0.29,0.3,0.31,0.31,0.31,0.31,0.3,0.28,0.24,0.19,0.14,0.09,0.03,0.01,0],
[0.4,0.4,0.4,0.4,0.39,0.38,0.37,0.35,0.33,0.31,0.29,0.24,0.18,0.12,0.07,0.04,0.01,0,0],
[0.1,0.1,0.1,0.1,0.1,0.12,0.14,0.14,0.13,0.12,0.1,0.07,0.04,0.02,0.01,0.01,0,0,0],
[0.9,0.9,0.9,0.9,0.88,0.8,0.65,0.5,0.38,0.28,0.2,0.1,0.05,0.03,0.02,0.01,0,0,0],
[1.0,1.0,1.0,1.0,0.95,0.8,0.6,0.45,0.32,0.23,0.16,0.09,0.05,0.03,0.02,0.01,0,0,0],
[0.25,0.25,0.26,0.28,0.3,0.3,0.28,0.22,0.15,0.1,0.06,0.02,0.01,0,0,0,0,0,0],
[0.85,0.85,0.85,0.86,0.86,0.8,0.6,0.4,0.25,0.16,0.1,0.05,0.03,0.02,0.01,0,0,0,0],
[0.26,0.26,0.25,0.24,0.23,0.22,0.2,0.15,0.5,0.36,0.21,0.1,0.05,0.02,0.01,0,0,0,0],
[0.45,0.45,0.45,0.45,0.45,0.45,0.45,0.44,0.42,0.34,0.26,0.1,0.03,0,0,0,0,0,0],
[0.28,0.27,0.27,0.26,0.26,0.26,0.27,0.27,0.28,0.27,0.26,0.23,0.12,0.05,0.01,0,0,0,0]];
const bluHiD = [
[0.48,0.48,0.48,0.49,0.49,0.49,0.5,0.5,0.5,0.5,0.5,0.45,0.36,0.26,0.19,0.13,0.05,0.02,0.01],
[0.5,0.5,0.5,0.51,0.51,0.51,0.52,0.52,0.52,0.52,0.52,0.5,0.45,0.38,0.32,0.26,0.15,0.08,0.02],
[0.6,0.61,0.62,0.63,0.64,0.65,0.65,0.65,0.65,0.65,0.64,0.62,0.58,0.52,0.45,0.37,0.2,0.1,0.02],
[1.05,1.05,1.05,1.04,1.03,1.01,0.99,0.96,0.92,0.88,0.84,0.76,0.67,0.57,0.45,0.32,0.12,0.05,0.01],
[1.85,1.85,1.8,1.7,1.6,1.45,1.3,1.13,0.97,0.82,0.7,0.5,0.35,0.25,0.17,0.12,0.05,0.02,0.01],
[1.75,1.78,1.82,1.86,1.9,1.9,1.8,1.6,1.35,1.1,0.88,0.6,0.4,0.27,0.18,0.12,0.05,0.02,0.01],
[2.2,2.22,2.25,2.25,2.2,2.05,1.85,1.6,1.35,1.12,0.92,0.62,0.42,0.28,0.19,0.13,0.05,0.02,0.01],
[2.65,2.7,2.7,2.7,2.68,2.55,2.3,1.98,1.65,1.35,1.1,0.72,0.48,0.32,0.22,0.15,0.06,0.03,0.01],
[1.7,1.72,1.75,1.75,1.72,1.65,1.5,1.28,1.02,0.8,0.62,0.4,0.27,0.18,0.12,0.08,0.03,0.01,0.01],
[2.4,2.42,2.45,2.47,2.48,2.5,2.48,1.93,1.4,0.94,0.68,0.42,0.26,0.16,0.1,0.07,0.03,0.02,0.02],
[0.89,0.89,0.89,0.89,0.89,0.89,0.89,0.87,0.83,0.73,0.68,0.52,0.36,0.24,0.14,0.08,0.04,0.02,0.01],
[0.61,0.61,0.61,0.61,0.61,0.6,0.6,0.59,0.57,0.55,0.52,0.49,0.41,0.33,0.23,0.14,0.05,0.02,0.01]];

// ---------------- assemble ----------------
const rows = [
  {depth: depthA, obs: obsA, pred: predA, yLo: yelLoA, yHi: yelHiA, bLo: bluLoA, bHi: bluHiA, xr: xRangeA, xt: xTicksA, xl: xLabelsA, yt: yTicks300},
  {depth: depthB, obs: obsB, pred: predB, yLo: yelLoB, yHi: yelHiB, bLo: bluLoB, bHi: bluHiB, xr: xRangeB, xt: xTicksB, xl: xLabelsB, yt: yTicks300},
  {depth: depthC, obs: obsC, pred: predC, yLo: yelLoC, yHi: yelHiC, bLo: bluLoC, bHi: bluHiC, xr: xRangeC, xt: xTicksC, xl: xLabelsC, yt: yTicks300},
  {depth: depthD, obs: obsD, pred: predD, yLo: yelLoD, yHi: yelHiD, bLo: bluLoD, bHi: bluHiD, xr: xRangeD, xt: xTicksD, xl: xLabelsD, yt: yTicks200}
];

const YEL = '#f6cd4f', LBLUE = '#819ef0', GREY = '#717a97', BLUE = '#1a1aff', RED = '#ff1a1a';
const PX0 = 102, PDX = 99.33, PW = 88, PH = 192;
const ROWTOP = [67, 298, 529, 760];
const PADL = 40, PADT = 10, XH = 24, PADR = 12;

const frameBox = {
  id: 'frameBox',
  afterDraw(chart) {
    const {ctx, chartArea: a} = chart;
    ctx.save();
    ctx.strokeStyle = '#4d4d4d';
    ctx.lineWidth = 1;
    ctx.strokeRect(Math.round(a.left) + 0.5, Math.round(a.top) + 0.5, Math.round(a.right - a.left), Math.round(a.bottom - a.top));
    ctx.restore();
  }
};

function addText(html, x, baseline, size, family, weight, align, extra) {
  const d = document.createElement('div');
  d.className = 't';
  d.innerHTML = html;
  d.style.left = x + 'px';
  d.style.top = (baseline - 0.34 * size) + 'px';
  d.style.fontSize = size + 'px';
  d.style.fontFamily = family;
  d.style.fontWeight = weight || 'normal';
  if (align === 'center') d.style.transform = 'translateX(-50%)';
  if (extra) Object.assign(d.style, extra);
  document.body.appendChild(d);
  return d;
}

const SERIF = '"Liberation Serif","Times New Roman",serif';
const SANS = '"Liberation Sans",Arial,sans-serif';
const TICKFONT = {family: '"DejaVu Sans",sans-serif', size: 10};

for (let r = 0; r < 4; r++) {
  const R = rows[r];
  for (let c = 0; c < 12; c++) {
    const pl = Math.round(PX0 + c * PDX);
    const cv = document.createElement('canvas');
    const W = PADL + PW + PADR, H = PADT + PH + XH;
    cv.width = W; cv.height = H;
    cv.style.left = (pl - PADL) + 'px';
    cv.style.top = (ROWTOP[r] - PADT) + 'px';
    cv.style.width = W + 'px'; cv.style.height = H + 'px';
    document.body.appendChild(cv);

    const mk = arr => R.depth.map((d, i) => ({x: arr[i], y: d}));
    const yl = R.yLo[c], yh = R.yHi[c], bl = R.bLo[c], bh = R.bHi[c];
    const gl = yl.map((v, i) => Math.max(v, bl[i]));
    const gh = yh.map((v, i) => Math.max(Math.min(v, bh[i]), gl[i]));
    const hid = {borderWidth: 0, borderColor: 'rgba(0,0,0,0)', pointRadius: 0, fill: false, cubicInterpolationMode: 'monotone'};
    const datasets = [
      Object.assign({}, hid, {data: mk(yl), order: 12}),
      Object.assign({}, hid, {data: mk(yh), fill: '-1', backgroundColor: YEL, order: 12}),
      Object.assign({}, hid, {data: mk(bl), order: 11}),
      Object.assign({}, hid, {data: mk(bh), fill: '-1', backgroundColor: LBLUE, order: 11}),
      Object.assign({}, hid, {data: mk(gl), order: 10}),
      Object.assign({}, hid, {data: mk(gh), fill: '-1', backgroundColor: GREY, order: 10}),
      {data: mk(R.obs[c]), borderColor: BLUE, borderWidth: 1.2, pointRadius: 0, fill: false, order: 1, cubicInterpolationMode: 'monotone'},
      {data: mk(R.pred[c]), borderColor: RED, borderWidth: 1.2, pointRadius: 0, fill: false, order: 0, cubicInterpolationMode: 'monotone'}
    ];
    const xt = R.xt, xl = R.xl, yt = R.yt;
    new Chart(cv, {
      type: 'line',
      data: {datasets},
      plugins: [frameBox],
      options: {
        indexAxis: 'y',
        responsive: false, animation: false, devicePixelRatio: 1, events: [],
        layout: {padding: {left: 0, right: PADR, top: PADT, bottom: 0}},
        plugins: {legend: {display: false}, tooltip: {enabled: false}, filler: {propagate: false}},
        scales: {
          x: {
            type: 'linear', position: 'bottom', min: R.xr[0], max: R.xr[1],
            afterBuildTicks: s => { s.ticks = xt.map(v => ({value: v})); },
            afterFit: s => { s.height = XH; },
            ticks: {autoSkip: false, maxRotation: 0, padding: 1, color: '#000', font: TICKFONT,
                    callback: v => xl[xt.indexOf(v)]},
            grid: {color: '#cdcdcd', lineWidth: 0.8, tickLength: 4, tickColor: '#333', tickWidth: 1},
            border: {display: true, color: '#4d4d4d', width: 1, dash: [1.5, 2]}
          },
          y: {
            type: 'linear', position: 'left', reverse: true, min: 0, max: yt[yt.length - 1],
            afterBuildTicks: s => { s.ticks = yt.map(v => ({value: v})); },
            afterFit: s => { s.width = PADL; },
            ticks: {display: c === 0, autoSkip: false, padding: 2, color: '#000', font: TICKFONT,
                    callback: v => String(v)},
            grid: {color: '#cdcdcd', lineWidth: 0.8, tickLength: 4, tickColor: '#333', tickWidth: 1},
            border: {display: true, color: '#4d4d4d', width: 1, dash: [1.5, 2]}
          }
        }
      }
    });

    // panel title
    addText(rowLetters[r] + '-' + (c + 1), pl + 5, ROWTOP[r] - 4, 18, SANS, 'bold');
    addText(months[c], pl + (c >= 9 ? 67 : 64), ROWTOP[r] - 5, 14.5, SERIF, 'normal', 'center');
  }
  // depth label
  const dl = document.createElement('div');
  dl.className = 't';
  dl.textContent = 'Depth (m)';
  Object.assign(dl.style, {left: '61px', top: (ROWTOP[r] + PH / 2) + 'px', fontSize: '20px', fontFamily: SERIF,
    lineHeight: '20px', transform: 'translate(-50%,-50%) rotate(-90deg)'});
  document.body.appendChild(dl);
  // region label
  addText(regionNames[r], 128, ROWTOP[r] + (r === 0 ? 136 : 165), 19, SERIF);
}

// x-axis title
addText('Chl-a (mg m<sup style="font-size:12px;vertical-align:0;position:relative;top:-8px">\u22123</sup>)', 692, 991, 19, SERIF, 'normal', 'center');

// legend (panel A-1)
const lg = document.createElement('div');
lg.id = 'legend';
lg.innerHTML = '<div style="position:absolute;left:2px;top:7px;width:17px;height:0;border-top:1.2px solid ' + BLUE + '"></div>' +
  '<div style="position:absolute;left:27px;top:3px;line-height:8px">Obs Chl-a</div>' +
  '<div style="position:absolute;left:2px;top:19px;width:17px;height:0;border-top:1.2px solid ' + RED + '"></div>' +
  '<div style="position:absolute;left:27px;top:15px;line-height:8px">pred Chl-a</div>';
document.body.appendChild(lg);
</script>
</body></html>
